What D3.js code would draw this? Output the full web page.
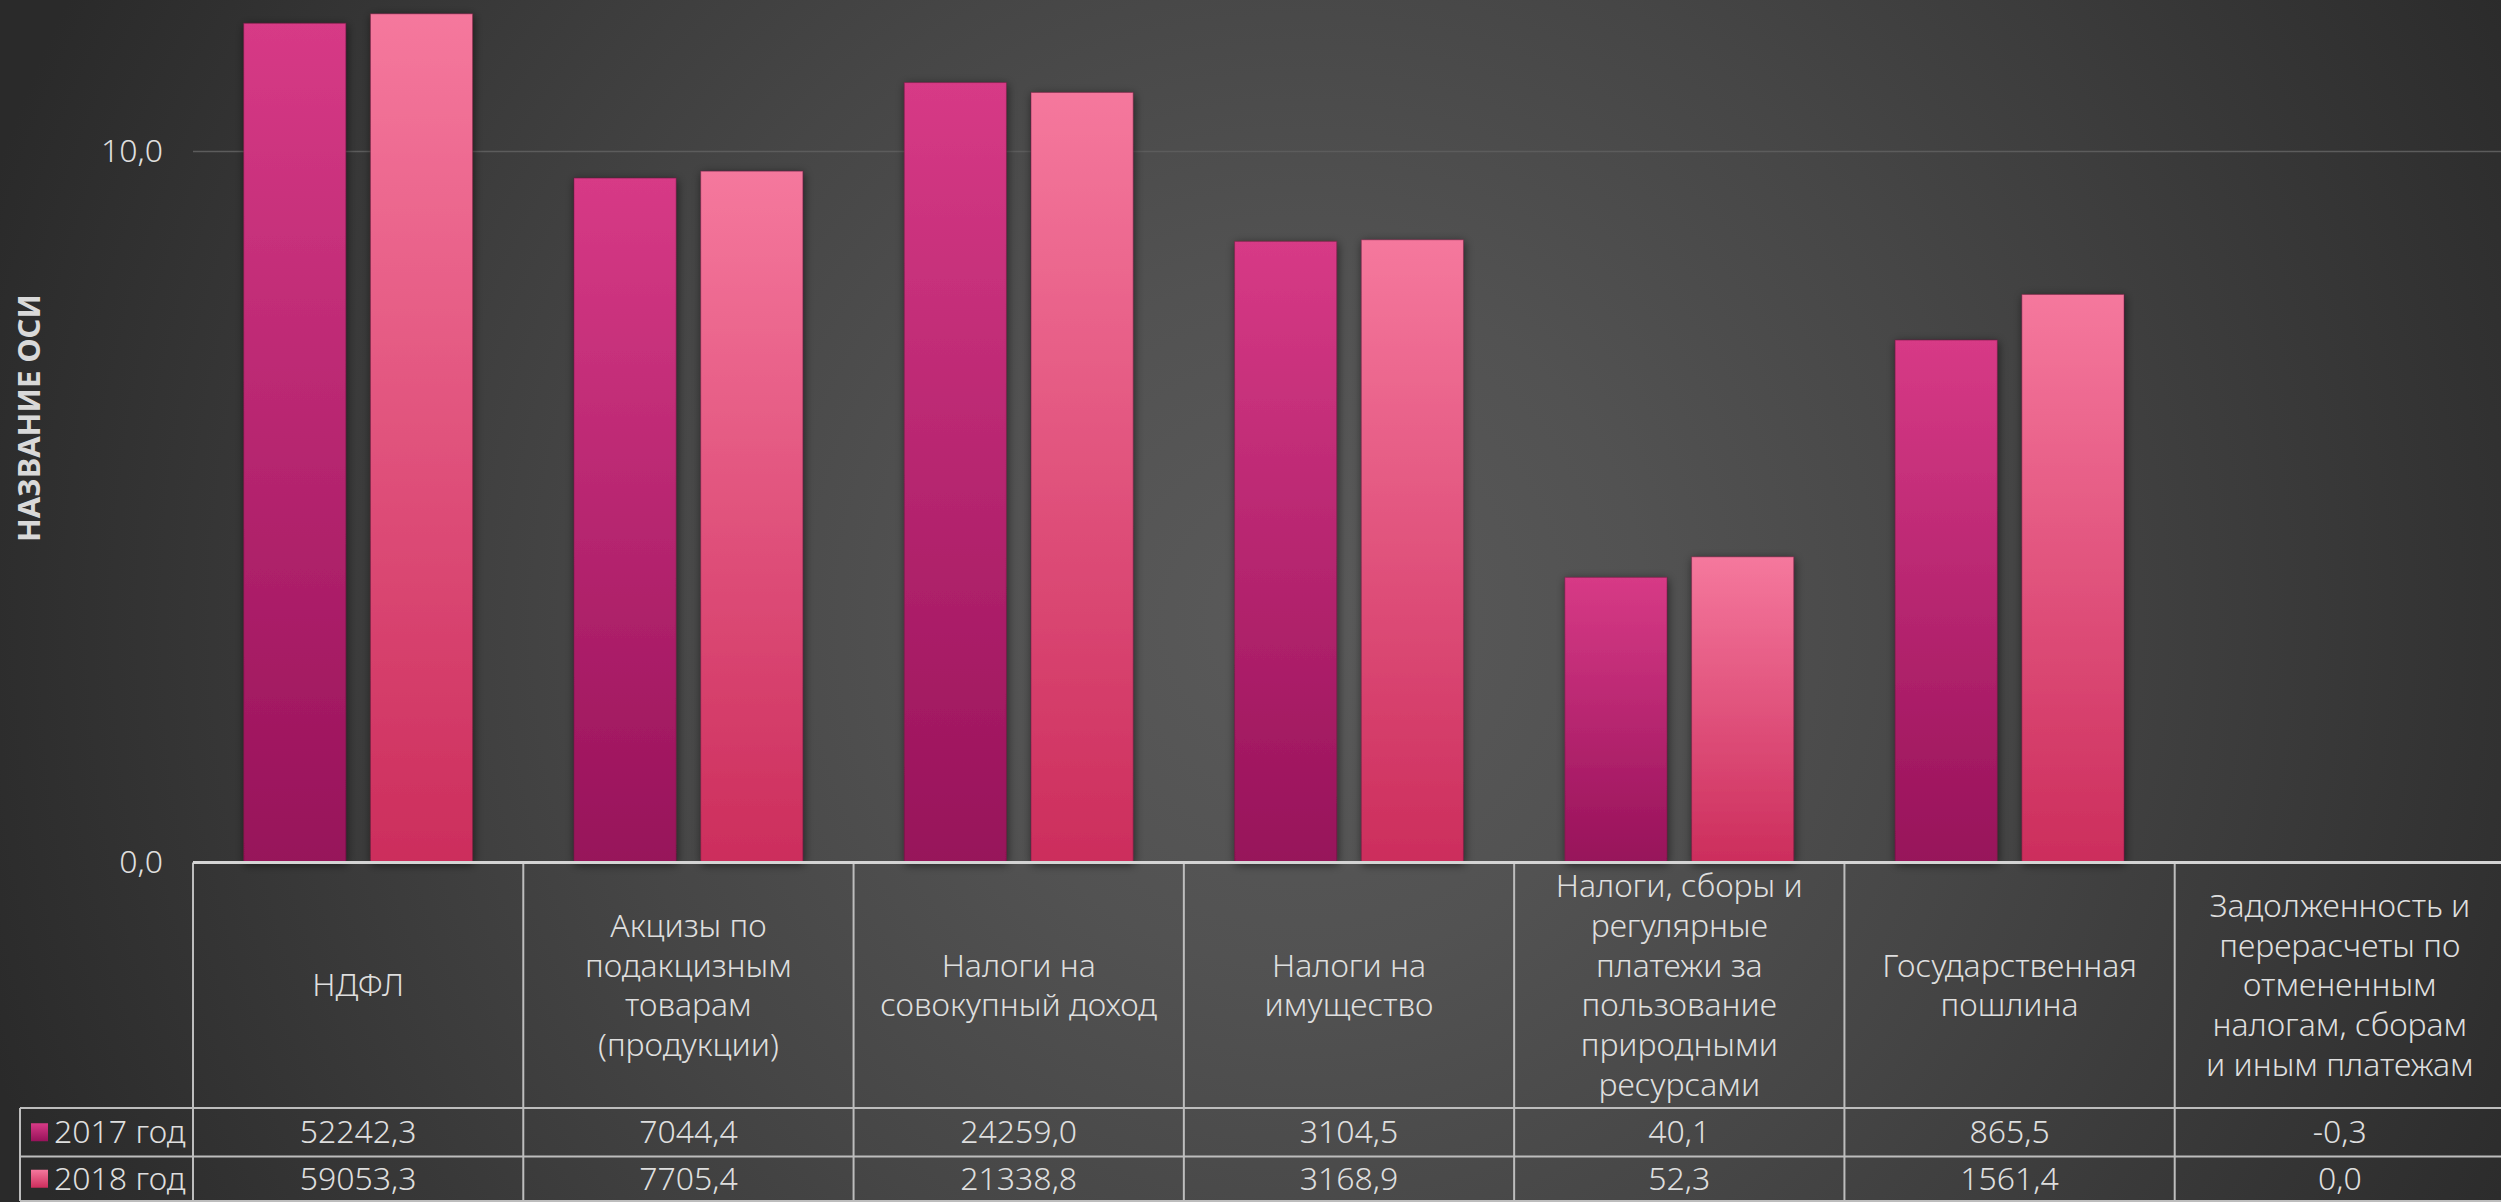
<!DOCTYPE html>
<html>
<head>
<meta charset="utf-8">
<script src="https://cdnjs.cloudflare.com/ajax/libs/d3/7.8.5/d3.min.js"></script>
<style>
    body { margin: 0; background: #2b2b2b; }
    svg { display: block; }
    .table-text { font-family: "Noto Sans", "DejaVu Sans", sans-serif; font-size: 32px; font-weight: 300; fill: #dedede; }
    .axis-title { font-family: "Noto Sans", "DejaVu Sans", sans-serif; font-size: 31px; font-weight: bold; fill: #d9d9d9; }
</style>
</head>
<body>
<div id="chart"></div>
<script>

// Data (values in млн руб.)
var categories = [
    "НДФЛ",
    "Акцизы по подакцизным товарам (продукции)",
    "Налоги на совокупный доход",
    "Налоги на имущество",
    "Налоги, сборы и регулярные платежи за пользование природными ресурсами",
    "Государственная пошлина",
    "Задолженность и перерасчеты по отмененным налогам, сборам и иным платежам"
];

// line breaks as in the table header
var categoryLines = [
    ["НДФЛ"],
    ["Акцизы по", "подакцизным", "товарам", "(продукции)"],
    ["Налоги на", "совокупный доход"],
    ["Налоги на", "имущество"],
    ["Налоги, сборы и", "регулярные", "платежи за", "пользование", "природными", "ресурсами"],
    ["Государственная", "пошлина"],
    ["Задолженность и", "перерасчеты по", "отмененным", "налогам, сборам", "и иным платежам"]
];

var seriesNames = ["2017 год", "2018 год"];
var values2017 = [52242.3, 7044.4, 24259.0, 3104.5, 40.1, 865.5, -0.3];
var values2018 = [59053.3, 7705.4, 21338.8, 3168.9, 52.3, 1561.4, 0.0];

// log axis, labels shown in thousands
var tickValues = [1, 10000];
var axisTitle = "НАЗВАНИЕ ОСИ";


TaxChart = function(_parentElement) {
    this.parentElement = _parentElement;
    this.data = categories.map(function(c, i) {
        return {
            cat: c,
            lines: categoryLines[i],
            values: [
                { key: seriesNames[0], v: values2017[i] },
                { key: seriesNames[1], v: values2018[i] }
            ]
        };
    });

    this.initVis();
};

TaxChart.prototype.initVis = function() {
    var vis = this;

    vis.width = 2501;
    vis.height = 1202;

    // table runs slightly past the right edge, as in the original
    vis.plot = { left: 193, right: 2505, bottom: 862.5 };
    vis.rows = { header: 1108, row1: 1156.5, row2: 1201 };
    vis.legendLeft = 20;

    vis.fmt = d3.formatLocale({ decimal: ",", thousands: " ", grouping: [3], currency: ["", ""], minus: "-" }).format(".1f");

    vis.svg = d3.select("#" + vis.parentElement).append("svg")
        .attr("width", vis.width)
        .attr("height", vis.height);

    var defs = vis.svg.append("defs");

    // background
    var bg = defs.append("radialGradient")
        .attr("id", "bg")
        .attr("gradientUnits", "userSpaceOnUse")
        .attr("cx", 1300).attr("cy", 620).attr("r", 1380);
    [[0, "#5a5a5a"], [0.25, "#525252"], [0.5, "#464646"], [0.7, "#3b3b3b"], [1, "#2a2a2a"]].forEach(function(s) {
        bg.append("stop").attr("offset", s[0]).attr("stop-color", s[1]);
    });

    // bar fills
    vis.gradIds = ["g2017", "g2018"];
    var stops = [
        [[0, "#d73a86"], [1, "#97125a"]],
        [[0, "#f5789d"], [1, "#cc2d5c"]]
    ];
    vis.gradIds.forEach(function(id, i) {
        var g = defs.append("linearGradient").attr("id", id)
            .attr("x1", 0).attr("y1", 0).attr("x2", 0).attr("y2", 1);
        stops[i].forEach(function(s) {
            g.append("stop").attr("offset", s[0]).attr("stop-color", s[1]);
        });
    });

    defs.append("filter").attr("id", "shadow")
        .attr("x", "-30%").attr("y", "-10%").attr("width", "160%").attr("height", "120%")
        .append("feDropShadow")
        .attr("dx", 1).attr("dy", 2).attr("stdDeviation", 5)
        .attr("flood-color", "#000").attr("flood-opacity", 0.55);

    vis.svg.append("rect")
        .attr("width", vis.width)
        .attr("height", vis.height)
        .attr("fill", "url(#bg)");

    // Scales
    vis.x = d3.scaleBand()
        .domain(categories)
        .range([vis.plot.left, vis.plot.right]);

    vis.xSub = d3.scaleBand()
        .domain(seriesNames)
        .range([0, vis.x.bandwidth()])
        .paddingInner(0.194)
        .paddingOuter(0.4);

    vis.y = d3.scaleLog()
        .domain([1, 10000])
        .range([vis.plot.bottom, 151]);

    // gridline
    vis.svg.append("g")
        .attr("class", "grid")
        .attr("transform", "translate(" + vis.plot.left + ",0)")
        .call(d3.axisLeft(vis.y).tickValues([10000]).tickSize(-(vis.plot.right - vis.plot.left)).tickFormat(""))
        .call(function(g) { g.select(".domain").remove(); })
        .selectAll("line")
        .attr("stroke", "#5c5c5c")
        .attr("stroke-width", 1.5);

    // y axis labels
    vis.svg.append("g")
        .attr("class", "y-axis")
        .attr("transform", "translate(" + vis.plot.left + ",0)")
        .call(d3.axisLeft(vis.y).tickValues(tickValues).tickSize(0).tickPadding(30)
            .tickFormat(function(d) { return vis.fmt(d / 1000); }))
        .call(function(g) { g.select(".domain").remove(); })
        .selectAll("text")
        .attr("class", "table-text")
        .attr("fill", null);

    vis.svg.append("text")
        .attr("class", "axis-title")
        .attr("transform", "translate(29,418) rotate(-90)")
        .attr("text-anchor", "middle")
        .attr("dy", "0.35em")
        .text(axisTitle);

    vis.updateVis();
};

TaxChart.prototype.updateVis = function() {
    var vis = this;

    // Bars
    var groups = vis.svg.selectAll(".cat")
        .data(vis.data)
        .enter()
        .append("g")
        .attr("class", "cat")
        .attr("transform", function(d) { return "translate(" + vis.x(d.cat) + ",0)"; });

    groups.selectAll("rect")
        .data(function(d) { return d.values.filter(function(s) { return s.v > 0; }); })
        .enter()
        .append("rect")
        .attr("x", function(d) { return vis.xSub(d.key); })
        .attr("y", function(d) { return vis.y(d.v); })
        .attr("width", vis.xSub.bandwidth())
        .attr("height", function(d) { return vis.y(1) - vis.y(d.v); })
        .attr("fill", function(d) { return "url(#" + vis.gradIds[seriesNames.indexOf(d.key)] + ")"; })
        .attr("stroke", "rgba(110,20,60,0.45)")
        .attr("stroke-width", 1)
        .attr("filter", "url(#shadow)");

    // Data table
    var lines = vis.svg.append("g").attr("class", "table-lines")
        .attr("stroke", "#bdbdbd")
        .attr("stroke-width", 2);

    var bounds = categories.map(function(c) { return vis.x(c); }).concat([vis.plot.right]);

    lines.selectAll(".vline")
        .data(bounds)
        .enter()
        .append("line")
        .attr("x1", function(d) { return d; })
        .attr("x2", function(d) { return d; })
        .attr("y1", vis.plot.bottom)
        .attr("y2", vis.rows.row2);

    lines.append("line")
        .attr("x1", vis.legendLeft).attr("x2", vis.legendLeft)
        .attr("y1", vis.rows.header).attr("y2", vis.rows.row2);

    [vis.rows.header, vis.rows.row1, vis.rows.row2].forEach(function(yy) {
        lines.append("line")
            .attr("x1", vis.legendLeft).attr("x2", vis.plot.right)
            .attr("y1", yy).attr("y2", yy);
    });

    // category axis line
    vis.svg.append("line")
        .attr("x1", vis.plot.left).attr("x2", vis.plot.right)
        .attr("y1", vis.plot.bottom).attr("y2", vis.plot.bottom)
        .attr("stroke", "#d4d4d4")
        .attr("stroke-width", 3);

    // Header labels
    var lineH = 39.7;
    var headerMid = (vis.plot.bottom + vis.rows.header) / 2;

    vis.svg.selectAll(".header")
        .data(vis.data)
        .enter()
        .append("text")
        .attr("class", "header table-text")
        .attr("text-anchor", "middle")
        .each(function(d) {
            var t = d3.select(this);
            var cx = vis.x(d.cat) + vis.x.bandwidth() / 2;
            var y0 = headerMid - (d.lines.length - 1) / 2 * lineH;
            d.lines.forEach(function(l, j) {
                t.append("tspan")
                    .attr("x", cx)
                    .attr("y", y0 + j * lineH)
                    .attr("dy", "0.35em")
                    .text(l);
            });
        });

    // Value rows
    var rowMids = [(vis.rows.header + vis.rows.row1) / 2, (vis.rows.row1 + vis.rows.row2) / 2];

    seriesNames.forEach(function(s, si) {
        vis.svg.selectAll(".val-" + si)
            .data(vis.data)
            .enter()
            .append("text")
            .attr("class", "val-" + si + " table-text")
            .attr("text-anchor", "middle")
            .attr("x", function(d) { return vis.x(d.cat) + vis.x.bandwidth() / 2; })
            .attr("y", rowMids[si])
            .attr("dy", "0.35em")
            .text(function(d) { return vis.fmt(d.values[si].v); });

        // legend key
        vis.svg.append("rect")
            .attr("x", 31)
            .attr("y", rowMids[si] - 9)
            .attr("width", 17)
            .attr("height", 18)
            .attr("fill", "url(#" + vis.gradIds[si] + ")");

        vis.svg.append("text")
            .attr("class", "table-text")
            .attr("x", 54)
            .attr("y", rowMids[si])
            .attr("dy", "0.35em")
            .text(s);
    });
};

var chart = new TaxChart("chart");

</script>
</body>
</html>
